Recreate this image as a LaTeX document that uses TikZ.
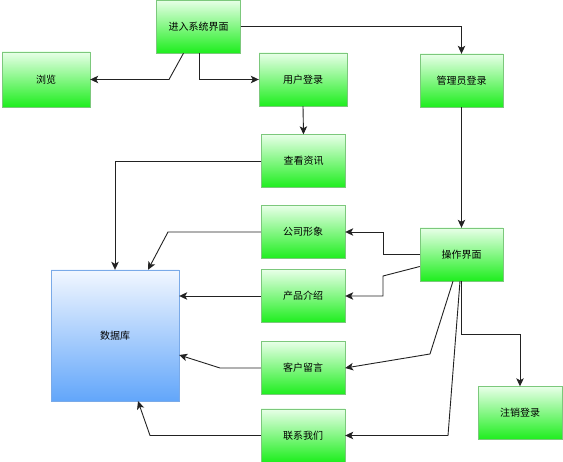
\documentclass[tikz,border=0pt]{standalone}
\usepackage{fontspec}
\newfontfamily\cjk{Noto Sans CJK SC}
\usetikzlibrary{arrows.meta}
\definecolor{greentop}{HTML}{E8FFE8}
\definecolor{greenbottom}{HTML}{1EEE1E}
\definecolor{greenline}{HTML}{7CC87C}
\definecolor{bluetop}{HTML}{F2F7FF}
\definecolor{bluebottom}{HTML}{62A6FA}
\definecolor{blueline}{HTML}{7AAAE8}
\definecolor{linkgray}{HTML}{222222}

\begin{document}
\begin{tikzpicture}[
  x=1pt, y=-1pt,
  >={Stealth[length=8pt,width=7.5pt,inset=2pt]},
  greenbox/.style={rectangle, draw=greenline, top color=greentop, bottom color=greenbottom,
    minimum width=84pt, minimum height=53pt, inner sep=0pt, font=\cjk\fontsize{10pt}{12pt}\selectfont},
  bluebox/.style={rectangle, draw=blueline, top color=bluetop, bottom color=bluebottom,
    minimum width=128pt, minimum height=131pt, inner sep=0pt, font=\cjk\fontsize{10pt}{12pt}\selectfont},
  link/.style={->, draw=linkgray, line width=0.9pt},
]
\useasboundingbox (0,0) rectangle (563,462);

\node[greenbox] (sys) at (198.5,26.5) {进入系统界面};
\node[greenbox, minimum width=88pt, minimum height=55pt] (browse) at (46,79.5) {浏览};
\node[greenbox, minimum width=88pt] (userlogin) at (303,79.5) {用户登录};
\node[greenbox, minimum width=83pt] (adminlogin) at (461.5,80.5) {管理员登录};

\node[greenbox] (news) at (303.5,161) {查看资讯};
\node[greenbox] (company) at (303,232) {公司形象};
\node[greenbox] (product) at (303,296) {产品介绍};
\node[greenbox] (message) at (303,368) {客户留言};
\node[greenbox] (contact) at (303,435.5) {联系我们};

\node[bluebox] (db) at (115,335.5) {数据库};
\node[greenbox, minimum width=83pt] (panel) at (461.5,254.5) {操作界面};
\node[greenbox] (logout) at (520,413) {注销登录};

\draw[link] ([xshift=-15pt]sys.south) -- (169,79.5) -- (browse.east);
\draw[link] ([xshift=0.5pt]sys.south) |- (userlogin.west);
\draw[link] (sys.east) -| (adminlogin.north);
\draw[link] (userlogin.south) -- (news.north);

\draw[link] (news.west) -| (db.north);
\draw[link] (company.west) -- (168,232) -- ([xshift=33pt]db.north);
\draw[link] (product.west) -- (product.west -| db.east);
\draw[link] (message.west) -- (220,368) -- ([yshift=-19.5pt]db.east);
\draw[link] (contact.west) -- (150,435.5) -- ([xshift=23pt]db.south);

\draw[link] (adminlogin.south) -- (panel.north);
\draw[link] (panel.west) -- (383,254.5) |- (company.east);
\draw[link] ([yshift=-12pt]panel.west) -- (383,276) |- (product.east);
\draw[link] ([xshift=-8.5pt]panel.south) -- (430,354) -- (message.east);
\draw[link] ([xshift=-1.5pt]panel.south) -- (448,435.5) -- (contact.east);
\draw[link] (panel.south) -- (461.5,334) -| (logout.north);

\end{tikzpicture}
\end{document}
